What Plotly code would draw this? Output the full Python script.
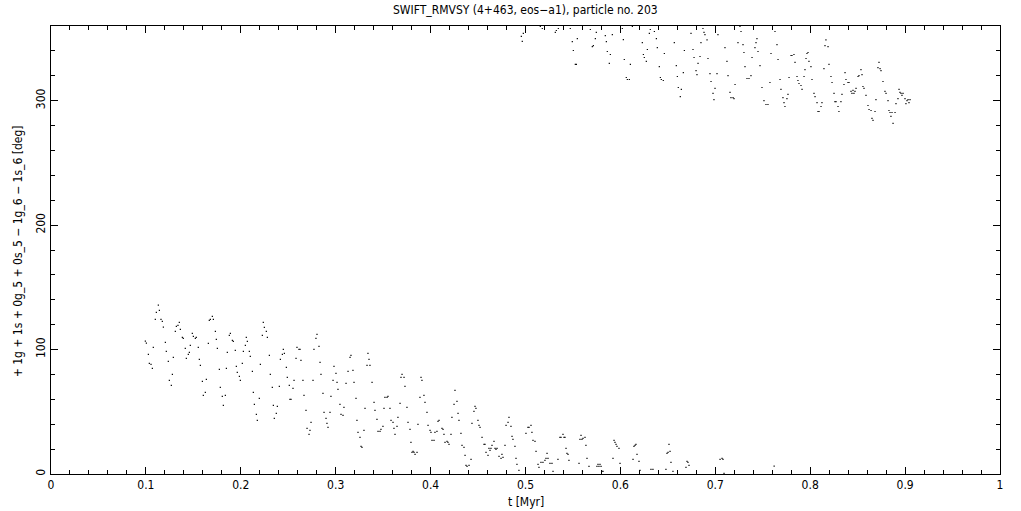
import plotly.graph_objects as go

# ---- data (t in Myr, resonant angle in deg) ----
t_low = [
    0.0994, 0.1005, 0.1026, 0.1036, 0.1054, 0.1068, 0.1078, 0.1099, 0.1110, 0.1131,
    0.1142, 0.1159, 0.1173, 0.1184, 0.1205, 0.1215, 0.1236, 0.1247, 0.1268, 0.1279,
    0.1289, 0.1310, 0.1321, 0.1338, 0.1352, 0.1363, 0.1384, 0.1394, 0.1415, 0.1426,
    0.1447, 0.1458, 0.1468, 0.1489, 0.1500, 0.1521, 0.1531, 0.1552, 0.1563, 0.1574,
    0.1595, 0.1605, 0.1626, 0.1637, 0.1658, 0.1668, 0.1679, 0.1700, 0.1711, 0.1732,
    0.1742, 0.1753, 0.1774, 0.1784, 0.1805, 0.1816, 0.1837, 0.1848, 0.1858, 0.1879,
    0.1890, 0.1911, 0.1921, 0.1942, 0.1953, 0.1963, 0.1985, 0.1995, 0.2016, 0.2027,
    0.2048, 0.2058, 0.2069, 0.2090, 0.2100, 0.2122, 0.2132, 0.2143, 0.2164, 0.2174,
    0.2195, 0.2206, 0.2227, 0.2237, 0.2248, 0.2269, 0.2280, 0.2301, 0.2311, 0.2332,
    0.2343, 0.2353, 0.2374, 0.2385, 0.2406, 0.2417, 0.2438, 0.2448, 0.2459, 0.2480,
    0.2490, 0.2511,
    0.2518, 0.2529, 0.2550, 0.2561, 0.2582, 0.2592, 0.2613, 0.2624, 0.2634, 0.2655,
    0.2666, 0.2687, 0.2698, 0.2719, 0.2729, 0.2740, 0.2761, 0.2771, 0.2792, 0.2803,
    0.2824, 0.2835, 0.2845, 0.2866, 0.2877, 0.2898, 0.2908, 0.2919, 0.2940, 0.2950,
    0.2972, 0.2982, 0.3003, 0.3014, 0.3024, 0.3045, 0.3056, 0.3077, 0.3087, 0.3109,
    0.3130, 0.3151, 0.3161, 0.3182, 0.3193, 0.3214, 0.3224, 0.3235, 0.3256, 0.3267,
    0.3277, 0.3298, 0.3309, 0.3330, 0.3340, 0.3351, 0.3361, 0.3383, 0.3404, 0.3414,
    0.3435, 0.3446, 0.3467, 0.3477, 0.3498, 0.3509, 0.3519, 0.3541, 0.3551, 0.3572,
    0.3583, 0.3604, 0.3614, 0.3625, 0.3646, 0.3656, 0.3678, 0.3688, 0.3699, 0.3720,
    0.3730, 0.3751, 0.3762, 0.3783, 0.3793, 0.3804, 0.3815, 0.3825, 0.3836, 0.3857,
    0.3867, 0.3888, 0.3899, 0.3909, 0.3930, 0.3941, 0.3962, 0.3973, 0.3994, 0.4004,
    0.4015, 0.4036, 0.4046, 0.4067, 0.4078, 0.4089,
    0.4120, 0.4131, 0.4141, 0.4152, 0.4173, 0.4183, 0.4194, 0.4215, 0.4225, 0.4247,
    0.4257, 0.4278, 0.4289, 0.4299, 0.4320, 0.4331, 0.4352, 0.4363, 0.4373, 0.4384,
    0.4405, 0.4426, 0.4436, 0.4457, 0.4468, 0.4478, 0.4499, 0.4510, 0.4521, 0.4542,
    0.4563, 0.4573, 0.4584, 0.4605, 0.4615, 0.4626, 0.4636, 0.4647, 0.4668, 0.4679,
    0.4689, 0.4700, 0.4721,
    0.4742, 0.4752, 0.4763, 0.4784, 0.4795, 0.4816, 0.4826, 0.4847, 0.4858, 0.4868,
    0.4889, 0.4900, 0.4910, 0.4931,
    0.5005, 0.5026, 0.5037, 0.5058, 0.5068, 0.5079, 0.5100, 0.5111, 0.5132, 0.5142,
    0.5163, 0.5184, 0.5205, 0.5216, 0.5227, 0.5237, 0.5258, 0.5279, 0.5290,
    0.5342, 0.5363, 0.5374, 0.5395, 0.5406, 0.5416, 0.5427, 0.5437, 0.5448, 0.5458,
    0.5564, 0.5574, 0.5585, 0.5595, 0.5606, 0.5627, 0.5637, 0.5648, 0.5669,
    0.5753, 0.5764, 0.5774, 0.5785, 0.5796, 0.5806, 0.5817,
    0.5922, 0.5933, 0.5943, 0.5954, 0.5964, 0.5985, 0.5996,
    0.6133, 0.6143, 0.6154, 0.6164, 0.6175, 0.6196, 0.6207,
    0.6322, 0.6343,
    0.6480, 0.6491, 0.6502, 0.6512, 0.6523, 0.6533, 0.6554,
    0.6691, 0.6702, 0.6712, 0.6723,
    0.7050, 0.7071, 0.7081, 0.7092,
    0.7620,
]
deg_low = [
    106.8, 105.2, 96.1, 88.9, 88.1, 84.9, 101.7, 124.2, 129.9, 135.7,
    131.5, 124.2, 122.6, 118.1, 105.8, 98.5, 90.5, 75.2, 71.2, 80.1,
    93.7, 114.6, 118.6, 119.4, 121.8, 116.2, 109.8, 109.0, 100.9, 92.9,
    96.1, 97.7, 103.3, 113.0, 110.6, 109.0, 109.8, 101.7, 92.1, 87.3,
    74.4, 63.2, 65.6, 76.0, 105.0, 123.4, 124.2, 126.6, 124.2, 114.6,
    108.2, 100.9, 84.1, 69.6, 62.4, 55.2, 63.2, 84.9, 97.7, 111.4,
    113.0, 107.4, 106.6, 99.3, 86.5, 81.7, 78.4, 75.2, 88.9, 98.5,
    103.3, 109.8, 106.6, 98.5, 94.5, 82.5, 65.6, 56.0, 47.9, 43.1,
    60.8, 88.1, 111.4, 121.8, 117.8, 114.6, 109.8, 95.3, 80.1, 69.6,
    55.2, 44.7, 48.7, 54.4, 70.4, 92.1, 96.1, 100.1, 96.9, 85.7,
    77.6, 71.2,
    60.0, 60.0, 68.8, 75.2, 92.9, 101.7, 100.1, 100.1, 91.3, 75.2,
    63.2, 51.1, 36.7, 31.9, 35.1, 41.5, 75.2, 100.1, 109.0, 112.2,
    102.5, 89.7, 80.1, 64.8, 49.5, 44.7, 40.7, 37.5, 49.5, 62.4,
    75.2, 86.5, 80.9, 73.6, 68.0, 56.0, 47.9, 47.1, 53.5, 72.8,
    82.5, 93.7, 95.3, 83.3, 73.6, 60.8, 43.1, 33.5, 29.5, 22.2,
    21.4, 35.1, 52.7, 87.3, 96.9, 92.1, 87.3, 73.6, 57.6, 51.1,
    43.9, 34.3, 34.3, 35.9, 38.3, 52.7, 61.6, 61.6, 62.4, 52.7,
    43.1, 41.5, 36.7, 31.9, 38.3, 45.5, 56.8, 77.6, 80.1, 77.6,
    70.4, 53.5, 41.5, 35.9, 25.4, 17.4, 18.2, 17.4, 15.8, 17.4,
    39.9, 61.6, 77.6, 75.2, 63.2, 57.6, 49.5, 39.1, 35.1, 33.5,
    27.0, 27.0, 33.5, 34.3, 42.3, 43.1,
    36.7, 35.9, 31.9, 25.4, 26.2, 25.4, 23.8, 31.9, 45.5, 56.0,
    67.2, 58.4, 48.7, 43.1, 32.7, 23.0, 21.4, 15.0, 7.0, 6.2,
    7.0, 11.8, 40.7, 50.3, 54.4, 52.7, 43.1, 39.1, 37.5, 29.5,
    23.8, 23.8, 17.4, 15.0, 20.6, 19.0, 20.6, 23.0, 26.2, 20.6,
    19.8, 20.6, 14.2,
    12.6, 15.8, 13.4, 23.0, 39.1, 41.5, 45.5, 38.3, 30.3, 27.8,
    22.2, 12.6, 7.8, 2.9,
    32.7, 37.5, 37.5, 39.1, 33.5, 27.0, 26.2, 18.2, 7.8, 5.4,
    9.4, 9.4, 11.0, 12.6, 16.6, 12.6, 8.6, 8.6, 2.1,
    11.8, 29.5, 29.5, 31.9, 29.5, 29.5, 20.6, 16.6, 15.8, 11.0,
    8.6, 27.8, 31.1, 27.8, 28.6, 29.5, 23.0, 12.6, 6.2,
    6.2, 7.8, 6.2, 7.8, 6.2, 2.1, 2.1,
    12.6, 27.0, 25.4, 23.8, 22.2, 20.6, 8.6,
    11.8, 22.2, 23.0, 23.8, 15.8, 10.2, 2.9,
    3.7, 3.7,
    3.7, 16.6, 17.4, 23.8, 18.2, 9.4, 2.1,
    5.4, 10.2, 9.4, 7.0,
    11.8, 12.6, 11.8, 0.5,
    6.4,
]

t_high = [
    0.4956, 0.4966, 0.4977, 0.5156, 0.5177, 0.5314, 0.5325, 0.5346, 0.5472, 0.5493,
    0.5504, 0.5525, 0.5536, 0.5546, 0.5683, 0.5704, 0.5715, 0.5736, 0.5746, 0.5841,
    0.5852, 0.5862, 0.5883, 0.5894, 0.5915, 0.6020, 0.6031, 0.6041, 0.6062, 0.6073,
    0.6094, 0.6105, 0.6126, 0.6231, 0.6242, 0.6252, 0.6273, 0.6284, 0.6305, 0.6315,
    0.6358, 0.6379, 0.6389, 0.6410, 0.6421, 0.6431, 0.6452, 0.6463, 0.6568, 0.6589,
    0.6600, 0.6610, 0.6631, 0.6642, 0.6663, 0.6674,
    0.6744, 0.6765, 0.6776, 0.6797, 0.6807, 0.6818, 0.6839, 0.6849, 0.6870, 0.6881,
    0.6891, 0.6913, 0.6923, 0.6944, 0.6955, 0.6976, 0.6986, 0.6997, 0.7018, 0.7028,
    0.7102, 0.7123, 0.7134, 0.7155, 0.7165, 0.7187, 0.7197, 0.7208, 0.7239, 0.7260,
    0.7271, 0.7292, 0.7302, 0.7313, 0.7334, 0.7355, 0.7376, 0.7387, 0.7418, 0.7429,
    0.7439, 0.7450, 0.7471, 0.7492, 0.7513, 0.7534, 0.7555, 0.7576, 0.7587, 0.7629,
    0.7650, 0.7661, 0.7682, 0.7692, 0.7713, 0.7724, 0.7734, 0.7755, 0.7766, 0.7777,
    0.7798, 0.7808, 0.7829, 0.7840, 0.7861, 0.7871, 0.7882, 0.7903, 0.7914, 0.7935,
    0.7945, 0.7956, 0.7966, 0.7977, 0.7987, 0.8008, 0.8019, 0.8040, 0.8051, 0.8072,
    0.8082, 0.8093, 0.8114, 0.8124, 0.8145, 0.8156, 0.8166, 0.8188, 0.8198, 0.8219,
    0.8230, 0.8251, 0.8261, 0.8272, 0.8293, 0.8303, 0.8324, 0.8335, 0.8356, 0.8367,
    0.8377, 0.8398, 0.8409, 0.8430, 0.8440, 0.8451, 0.8461, 0.8472, 0.8483, 0.8504,
    0.8514, 0.8535, 0.8546, 0.8556, 0.8567, 0.8588, 0.8609, 0.8620, 0.8641, 0.8651,
    0.8662, 0.8683, 0.8693, 0.8714, 0.8725, 0.8736, 0.8746, 0.8767, 0.8788, 0.8799,
    0.8820, 0.8830, 0.8841, 0.8851, 0.8862, 0.8873, 0.8894, 0.8904, 0.8925, 0.8936,
    0.8946, 0.8957, 0.8967, 0.8978, 0.8999, 0.9009, 0.9020, 0.9031, 0.9041, 0.9052,
]
deg_high = [
    351.6, 347.6, 354.0, 359.6, 358.0, 354.8, 356.4, 358.0, 358.0, 347.5,
    340.3, 329.1, 329.1, 349.9, 357.2, 343.5, 344.3, 349.9, 354.8, 352.3,
    347.5, 339.5, 329.9, 337.1, 353.1, 358.0, 349.1, 333.1, 318.6, 317.0,
    317.0, 329.1, 359.6, 346.7, 337.1, 334.7, 331.5, 341.1, 354.0, 357.2,
    355.6, 349.9, 342.7, 327.4, 318.6, 317.0, 316.2, 337.9, 346.7, 328.2,
    319.4, 310.6, 303.3, 309.0, 322.6, 340.3,
    354.0, 341.1, 334.7, 324.2, 321.0, 329.9, 335.5, 346.7, 358.0, 354.8,
    353.1, 348.9, 333.9, 321.8, 315.4, 305.8, 300.9, 309.8, 321.8, 353.1,
    342.7, 331.5, 320.2, 306.6, 302.5, 302.5, 301.7, 313.0, 346.7, 359.6,
    355.6, 345.1, 338.7, 327.4, 317.8, 317.8, 320.2, 334.7, 342.7, 346.7,
    349.9, 339.5, 328.2, 310.6, 300.1, 296.9, 296.9, 314.6, 337.9, 355.6,
    345.1, 333.1, 317.0, 309.0, 302.5, 298.5, 295.3, 301.7, 305.0, 318.6,
    336.3, 336.3, 337.1, 330.7, 319.4, 316.2, 313.8, 312.2, 309.0, 319.4,
    325.0, 333.9, 337.9, 338.7, 331.5, 327.4, 317.0, 305.8, 303.3, 298.5,
    291.3, 291.3, 295.3, 298.5, 325.8, 344.3, 348.9, 343.5, 329.1, 319.4,
    314.6, 305.8, 299.3, 299.3, 295.3, 291.3, 299.3, 305.0, 313.0, 322.6,
    317.0, 314.6, 314.6, 307.4, 305.8, 308.2, 305.8, 307.4, 309.8, 319.4,
    320.2, 325.0, 321.0, 311.4, 309.8, 304.2, 296.1, 292.9, 292.1, 285.7,
    284.1, 291.3, 300.9, 326.6, 330.7, 325.8, 324.2, 315.4, 307.4, 305.8,
    300.1, 292.1, 290.5, 287.3, 290.5, 281.7, 290.5, 297.7, 301.7, 309.0,
    306.6, 305.8, 304.2, 305.8, 301.7, 297.7, 300.1, 300.9, 298.5, 300.9,
]

x_ticks = [0, 0.1, 0.2, 0.3, 0.4, 0.5, 0.6, 0.7, 0.8, 0.9, 1]
x_tick_labels = ["0", "0.1", "0.2", "0.3", "0.4", "0.5", "0.6", "0.7", "0.8", "0.9", "1"]
y_ticks = [0, 100, 200, 300]
y_tick_labels = ["0", "100", "200", "300"]

title_text = "SWIFT_RMVSY (4+463, eos\u2212a1), particle no. 203"
x_title = "t [Myr]"
y_title = "+ 1g + 1s + 0g_5 + 0s_5 \u2212 1g_6 \u2212 1s_6 [deg]"

FONT = "Liberation Sans Narrow, DejaVu Sans Condensed, Arial Narrow, sans-serif"

fig = go.Figure()
marker = dict(symbol="square", size=1.2, color="black", line=dict(width=0))
fig.add_trace(go.Scatter(x=t_low, y=deg_low, mode="markers", marker=marker,
                         showlegend=False, hoverinfo="x+y"))
fig.add_trace(go.Scatter(x=t_high, y=deg_high, mode="markers", marker=marker,
                         showlegend=False, hoverinfo="x+y"))

axis_common = dict(
    showline=True, linecolor="black", linewidth=1, mirror="ticks",
    ticks="inside", tickcolor="black", tickwidth=1,
    showgrid=False, zeroline=False,
    tickfont=dict(family=FONT, size=12, color="black"),
)

fig.update_xaxes(
    range=[0, 1], tickmode="array", tickvals=x_ticks, ticktext=x_tick_labels,
    ticklen=7,
    minor=dict(dtick=0.02, ticks="inside", ticklen=4, tickcolor="black", showgrid=False),
    **axis_common,
)
fig.update_yaxes(
    range=[0, 360], tickmode="array", tickvals=y_ticks, ticktext=y_tick_labels,
    ticklen=7, tickangle=-90,
    minor=dict(dtick=20, ticks="inside", ticklen=4, tickcolor="black", showgrid=False),
    **axis_common,
)

fig.update_layout(
    width=1021, height=511, autosize=False,
    margin=dict(l=51, r=21, t=26, b=37, pad=0),
    plot_bgcolor="white", paper_bgcolor="white",
    font=dict(family=FONT, size=12, color="black"),
    annotations=[
        dict(text=title_text, xref="paper", yref="paper", x=0.5, y=1.036,
             showarrow=False, xanchor="center", yanchor="middle",
             font=dict(family=FONT, size=12, color="black")),
        dict(text=x_title, xref="paper", yref="paper", x=0.5, y=-0.0625,
             showarrow=False, xanchor="center", yanchor="middle",
             font=dict(family=FONT, size=12, color="black")),
        dict(text=y_title, xref="paper", yref="paper", x=-0.0348, y=0.497,
             showarrow=False, xanchor="center", yanchor="middle", textangle=-90,
             font=dict(family=FONT, size=12, color="black")),
    ],
)

fig.write_html(
    "out.html",
    config={"displayModeBar": False},
    post_script="document.body.style.margin='0px';document.body.style.overflow='hidden';",
)
